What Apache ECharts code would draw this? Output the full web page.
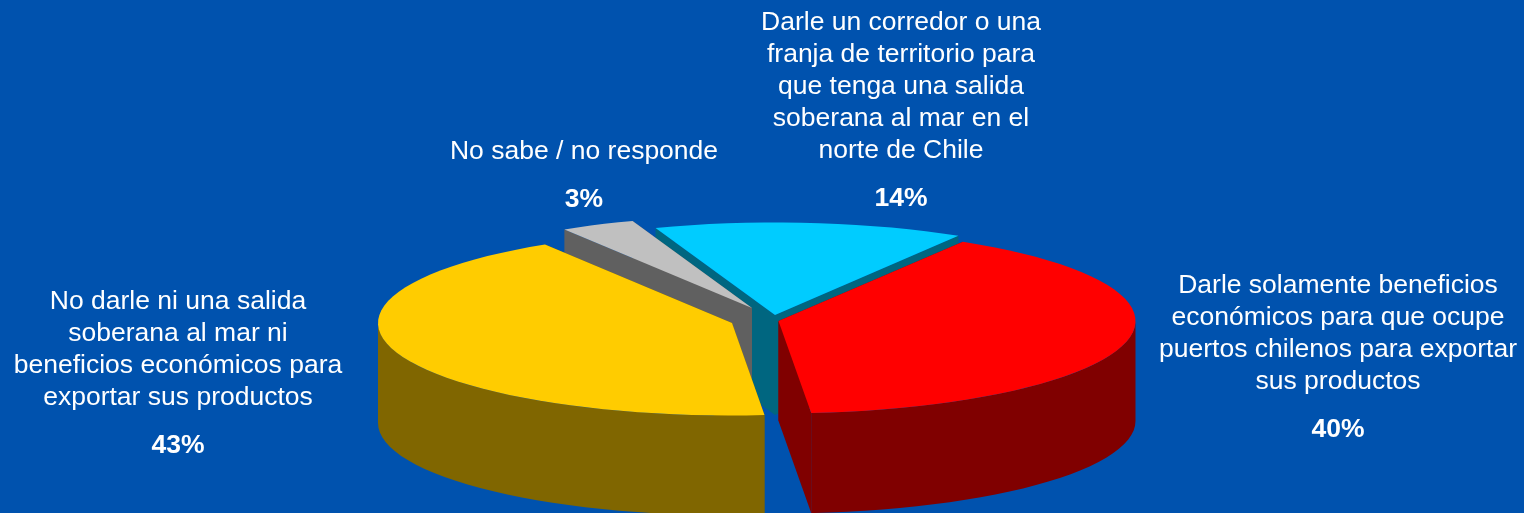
<!DOCTYPE html>
<html>
<head>
<meta charset="utf-8">
<style>html,body{margin:0;padding:0;background:#0052AE}#c{width:1524px;height:513px}</style>
<script src="https://cdn.jsdelivr.net/npm/echarts@6/dist/echarts.min.js"></script>
</head>
<body>
<div id="c"></div>
<script>
// Data: shares; labels show them rounded
var categories = [
  'Darle solamente beneficios\neconómicos para que ocupe\npuertos chilenos para exportar\nsus productos',
  'No darle ni una salida\nsoberana al mar ni\nbeneficios económicos para\nexportar sus productos',
  'No sabe / no responde',
  'Darle un corredor o una\nfranja de territorio para\nque tenga una salida\nsoberana al mar en el\nnorte de Chile'
];
var values = [39.9, 42.6, 3.4, 14.1];

// Styles and layout (not data)
var topColors  = ['#FF0000', '#FFCC00', '#C0C0C0', '#00CCFF'];
var sideColors = ['#800000', '#806600', '#606060', '#006680'];
var drawOrder  = [4, 3, 2, 1];
var apexes     = [[778.5, 321], [732, 323], [752, 308], [775, 315]];
var radiusX    = [357, 354, 355, 355];
var radiusY    = 92.5;
var depth      = 100;
var startDeg   = -58.9;
var labelSpots = [[1338, 286], [178, 302], [584, 152], [901, 23]];
var lineGap = 32, percentGap = 48, fontSize = 26.5;
var fontFamily = '"Liberation Sans", Arial, sans-serif';

var total = values.reduce(function (a, b) { return a + b; }, 0);
var rad = Math.PI / 180;

function rimPoint(i, deg) {
  return [apexes[i][0] + radiusX[i] * Math.cos(deg * rad),
          apexes[i][1] + radiusY * Math.sin(deg * rad)];
}
function arcPoints(i, a, b) {
  var pts = [], n = Math.max(1, Math.ceil(Math.abs(b - a) / 3));
  for (var k = 0; k <= n; k++) pts.push(rimPoint(i, a + (b - a) * k / n));
  return pts;
}
function down(p) { return [p[0], p[1] + depth]; }
function poly(pts, fill, z) {
  return { type: 'polygon', shape: { points: pts }, style: { fill: fill, stroke: null }, z2: z };
}
function textEl(str, x, y, bold, z) {
  return { type: 'text', z2: z, x: x, y: y, style: {
    text: str, fill: '#FFFFFF', align: 'center', verticalAlign: 'middle',
    font: (bold ? 'bold ' : '') + fontSize + 'px ' + fontFamily } };
}

function renderSlice(params, api) {
  var i = params.dataIndex, v = api.value(0);
  var before = 0;
  for (var k = 0; k < i; k++) before += values[k];
  var a = startDeg + before / total * 360;
  var b = a + v / total * 360;
  var apex = apexes[i], base = drawOrder[i] * 10, side = sideColors[i];
  var kids = [];

  // radial cut faces
  [a, b].forEach(function (deg) {
    var r = rimPoint(i, deg);
    kids.push(poly([apex, r, down(r), down(apex)], side, base));
  });
  // outer wall: only the front half of the rim is visible
  var f0 = Math.max(a, 0), f1 = Math.min(b, 180);
  if (f1 > f0) {
    var rim = arcPoints(i, f0, f1);
    kids.push(poly(rim.concat(rim.slice().reverse().map(down)), side, base + 1));
  }
  // top face
  kids.push(poly([apex].concat(arcPoints(i, a, b)), topColors[i], base + 2));

  // label text
  var lines = categories[i].split('\n');
  var sx = labelSpots[i][0], sy = labelSpots[i][1];
  lines.forEach(function (ln, n) { kids.push(textEl(ln, sx, sy + n * lineGap, false, 100)); });
  kids.push(textEl(Math.round(v) + '%', sx, sy + (lines.length - 1) * lineGap + percentGap, true, 100));
  return { type: 'group', children: kids };
}

var chart = echarts.init(document.getElementById('c'), null, { renderer: 'canvas' });
chart.setOption({
  backgroundColor: '#0052AE',
  animation: false,
  series: [{
    type: 'custom',
    coordinateSystem: 'none',
    renderItem: renderSlice,
    data: values.map(function (v) { return [v]; }),
    silent: true
  }]
});
</script>
</body>
</html>
